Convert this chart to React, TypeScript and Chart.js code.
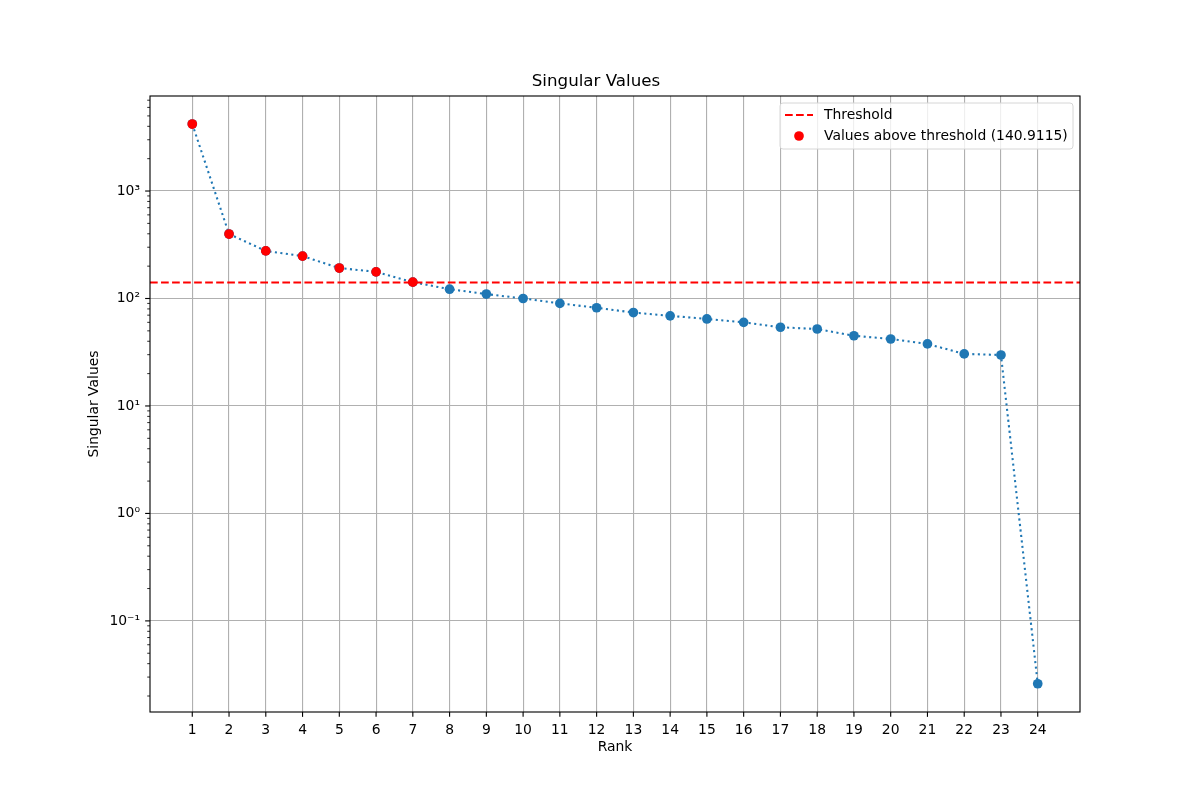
import React, { useEffect, useRef } from "react";
import { Chart, registerables } from "chart.js";

Chart.register(...registerables);

const ranks = [1, 2, 3, 4, 5, 6, 7, 8, 9, 10, 11, 12, 13, 14, 15, 16, 17, 18, 19, 20, 21, 22, 23, 24];
const singularValues = [4200, 398, 277, 248, 192, 177, 142, 122, 110, 100, 90, 82, 74, 69, 64.5, 60, 54, 52, 45, 42, 37.8, 30.5, 29.8, 0.026];
const threshold = 140.9115;
const xLimits = [-0.15, 25.15];
const yLimits = [0.0142, 7660];
const majorExponents = [-1, 0, 1, 2, 3];

const FONT = "'DejaVu Sans', sans-serif";
const BLUE = "#1f77b4";
const RED = "#ff0000";
const LW = 2.08;
const DASH = [7.7, 3.33];
const DOT = [2.08, 3.44];
const MARKER_R = 4.85;

const sup: Record<string, string> = { "-": "⁻", "0": "⁰", "1": "¹", "2": "²", "3": "³", "4": "⁴", "5": "⁵", "6": "⁶", "7": "⁷", "8": "⁸", "9": "⁹" };
const toSup = (n: number) => String(n).split("").map((c) => sup[c]).join("");

const framePlugin = {
  id: "frame",
  afterDraw(chart: any) {
    const { ctx, chartArea: a, scales } = chart;
    ctx.save();
    ctx.strokeStyle = "#000";
    // y ticks
    scales.y.ticks.forEach((t: any) => {
      const py = scales.y.getPixelForValue(t.value);
      if (py < a.top - 0.5 || py > a.bottom + 0.5) return;
      const len = t.major ? 4.86 : 2.78;
      ctx.lineWidth = t.major ? 1.11 : 0.83;
      ctx.beginPath();
      ctx.moveTo(a.left - len, py);
      ctx.lineTo(a.left, py);
      ctx.stroke();
    });
    ctx.lineWidth = 1.11;
    scales.x.ticks.forEach((t: any) => {
      const px = scales.x.getPixelForValue(t.value);
      ctx.beginPath();
      ctx.moveTo(px, a.bottom);
      ctx.lineTo(px, a.bottom + 4.86);
      ctx.stroke();
    });
    ctx.strokeRect(a.left, a.top, a.right - a.left, a.bottom - a.top);

    // title & axis labels
    ctx.fillStyle = "#000";
    ctx.textAlign = "center";
    ctx.textBaseline = "middle";
    ctx.font = `16.7px ${FONT}`;
    ctx.fillText("Singular Values", 596, 82);
    ctx.font = `13.9px ${FONT}`;
    ctx.fillText("Rank", (a.left + a.right) / 2, 747);
    ctx.save();
    ctx.translate(94, (a.top + a.bottom) / 2);
    ctx.rotate(-Math.PI / 2);
    ctx.fillText("Singular Values", 0, 0);
    ctx.restore();

    // legend
    const lx = 780, ly = 103, lw = 293, lh = 46, r = 3;
    ctx.beginPath();
    ctx.moveTo(lx + r, ly);
    ctx.arcTo(lx + lw, ly, lx + lw, ly + lh, r);
    ctx.arcTo(lx + lw, ly + lh, lx, ly + lh, r);
    ctx.arcTo(lx, ly + lh, lx, ly, r);
    ctx.arcTo(lx, ly, lx + lw, ly, r);
    ctx.closePath();
    ctx.fillStyle = "rgba(255,255,255,0.8)";
    ctx.fill();
    ctx.strokeStyle = "#d6d6d6";
    ctx.lineWidth = 1;
    ctx.stroke();

    ctx.strokeStyle = RED;
    ctx.lineWidth = LW;
    ctx.setLineDash(DASH);
    ctx.beginPath();
    ctx.moveTo(785, 115);
    ctx.lineTo(813, 115);
    ctx.stroke();
    ctx.setLineDash([]);
    ctx.fillStyle = RED;
    ctx.beginPath();
    ctx.arc(799, 136, MARKER_R, 0, Math.PI * 2);
    ctx.fill();

    ctx.fillStyle = "#000";
    ctx.textAlign = "left";
    ctx.font = `13.9px ${FONT}`;
    ctx.fillText("Threshold", 824, 115);
    ctx.fillText(`Values above threshold (${threshold})`, 824, 136);
    ctx.restore();
  },
};

export default function App() {
  const ref = useRef<HTMLCanvasElement>(null);

  useEffect(() => {
    const canvas = ref.current;
    if (!canvas) return;
    const points = ranks.map((r, i) => ({ x: r, y: singularValues[i] }));
    const above = points.filter((p) => p.y > threshold);

    const chart = new Chart(canvas, {
      type: "scatter",
      data: {
        datasets: [
          {
            label: "Values above threshold",
            data: above,
            showLine: false,
            pointRadius: MARKER_R,
            pointHoverRadius: MARKER_R,
            pointBackgroundColor: RED,
            pointBorderWidth: 0,
            order: 0,
          },
          {
            label: "Threshold",
            data: [
              { x: xLimits[0], y: threshold },
              { x: xLimits[1], y: threshold },
            ],
            showLine: true,
            borderColor: RED,
            borderWidth: LW,
            borderDash: DASH,
            borderCapStyle: "butt",
            pointRadius: 0,
            order: 1,
          },
          {
            label: "Singular values",
            data: points,
            showLine: true,
            borderColor: BLUE,
            borderWidth: LW,
            borderDash: DOT,
            borderCapStyle: "butt",
            pointRadius: MARKER_R,
            pointHoverRadius: MARKER_R,
            pointBackgroundColor: BLUE,
            pointBorderWidth: 0,
            order: 2,
          },
        ],
      },
      options: {
        animation: false,
        responsive: false,
        devicePixelRatio: 1,
        layout: { padding: { left: 0, right: 120, top: 96, bottom: 0 } },
        plugins: {
          legend: { display: false },
          title: { display: false },
          tooltip: { enabled: false },
        },
        scales: {
          x: {
            type: "linear",
            min: xLimits[0],
            max: xLimits[1],
            afterBuildTicks: (scale: any) => {
              scale.ticks = ranks.map((v) => ({ value: v }));
            },
            afterFit: (scale: any) => {
              scale.height = 88;
            },
            ticks: {
              autoSkip: false,
              maxRotation: 0,
              padding: 5,
              color: "#000",
              font: { family: FONT, size: 13.9 },
              callback: (v: any) => String(v),
            },
            grid: {
              color: "#b0b0b0",
              lineWidth: 1.11,
              drawTicks: true,
              tickLength: 5,
              tickColor: "rgba(0,0,0,0)",
            },
            border: { display: false },
          },
          y: {
            type: "logarithmic",
            min: yLimits[0],
            max: yLimits[1],
            afterBuildTicks: (scale: any) => {
              const ticks: any[] = [];
              for (let e = -2; e <= 3; e++) {
                for (let m = 1; m <= 9; m++) {
                  const v = m * Math.pow(10, e);
                  if (v >= yLimits[0] && v <= yLimits[1]) {
                    ticks.push({ value: v, major: m === 1 && majorExponents.includes(e) });
                  }
                }
              }
              scale.ticks = ticks;
            },
            afterFit: (scale: any) => {
              scale.width = 150;
            },
            ticks: {
              autoSkip: false,
              padding: 5,
              color: "#000",
              font: { family: FONT, size: 13.9 },
              callback: function (this: any, v: any, i: number, ticks: any[]) {
                const t = ticks[i];
                if (!t || !t.major) return "";
                const e = Math.round(Math.log10(Number(v)));
                return "10" + toSup(e);
              },
            },
            grid: {
              color: (ctx: any) => (ctx.tick && ctx.tick.major ? "#b0b0b0" : "rgba(0,0,0,0)"),
              lineWidth: 1.11,
              drawTicks: true,
              tickLength: 5,
              tickColor: "rgba(0,0,0,0)",
            },
            border: { display: false },
          },
        },
      },
      plugins: [framePlugin],
    });

    return () => chart.destroy();
  }, []);

  return (
    <div style={{ position: "fixed", left: 0, top: 0, width: 1200, height: 800, background: "#fff" }}>
      <canvas ref={ref} width={1200} height={800} style={{ display: "block" }} />
    </div>
  );
}
